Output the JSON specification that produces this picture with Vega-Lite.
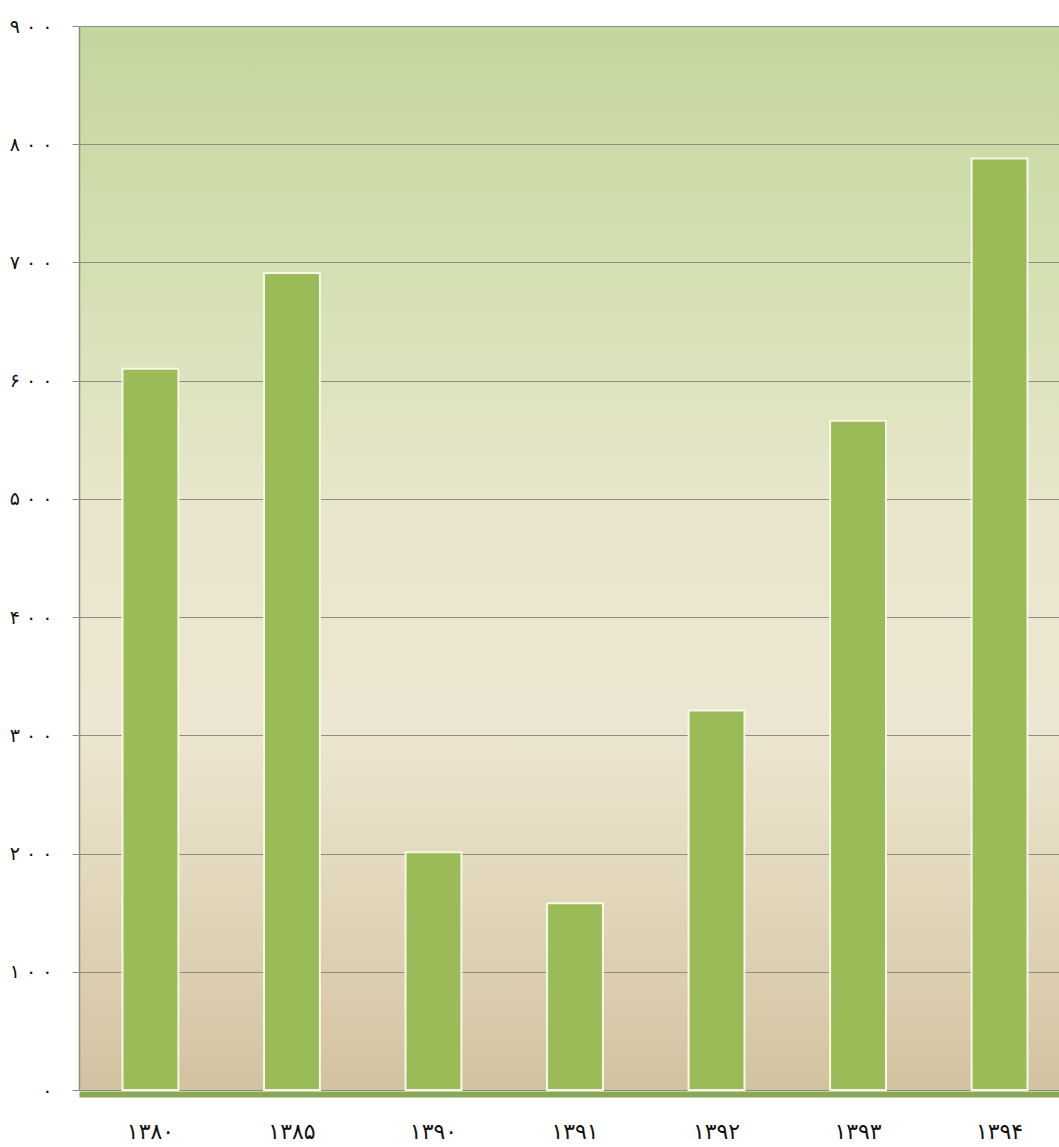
{
  "$schema": "https://vega.github.io/schema/vega-lite/v6.json",
  "autosize": "none",
  "padding": {"left": 79, "top": 26, "right": 0, "bottom": 57},
  "width": 980,
  "height": 1064,
  "background": "white",
  "config": {
    "view": {
      "stroke": null,
      "fill": {
        "gradient": "linear",
        "x1": 0, "y1": 0, "x2": 0, "y2": 1,
        "stops": [
          {"offset": 0, "color": "#c4d69c"},
          {"offset": 0.25, "color": "#d6e0b4"},
          {"offset": 0.45, "color": "#e8e6cc"},
          {"offset": 0.65, "color": "#ede6d2"},
          {"offset": 0.82, "color": "#e1d6ba"},
          {"offset": 1, "color": "#d3c2a0"}
        ]
      }
    }
  },
  "data": {
    "values": [
      {"year": "۱۳۸۰", "value": 610},
      {"year": "۱۳۸۵", "value": 691},
      {"year": "۱۳۹۰", "value": 201},
      {"year": "۱۳۹۱", "value": 158},
      {"year": "۱۳۹۲", "value": 321},
      {"year": "۱۳۹۳", "value": 566},
      {"year": "۱۳۹۴", "value": 788}
    ]
  },
  "mark": {"type": "bar", "color": "#9bbb59", "stroke": "#f4f8e4", "strokeWidth": 2},
  "encoding": {
    "x": {
      "field": "year",
      "type": "ordinal",
      "sort": null,
      "scale": {"paddingInner": 0.605, "paddingOuter": 0.265, "align": 0.58},
      "axis": {
        "title": null,
        "labelAngle": 0,
        "ticks": false,
        "domainColor": "#8ba858",
        "domainWidth": 6,
        "offset": 4,
        "labelPadding": 27,
        "labelFont": "DejaVu Sans",
        "labelFontSize": 22,
        "labelColor": "#111111"
      }
    },
    "y": {
      "field": "value",
      "type": "quantitative",
      "scale": {"domain": [0, 900], "nice": false},
      "axis": {
        "title": null,
        "values": [0, 100, 200, 300, 400, 500, 600, 700, 800, 900],
        "labelExpr": "datum.value == 0 ? '۰' : datum.value == 100 ? '۱ ۰ ۰' : datum.value == 200 ? '۲ ۰ ۰' : datum.value == 300 ? '۳ ۰ ۰' : datum.value == 400 ? '۴ ۰ ۰' : datum.value == 500 ? '۵ ۰ ۰' : datum.value == 600 ? '۶ ۰ ۰' : datum.value == 700 ? '۷ ۰ ۰' : datum.value == 800 ? '۸ ۰ ۰' : '۹ ۰ ۰'",
        "grid": true,
        "gridColor": "#8c8c80",
        "gridWidth": 1.2,
        "gridOpacity": 1,
        "domainColor": "#8c8c80",
        "domainWidth": 1.5,
        "tickColor": "#8c8c80",
        "tickSize": 7,
        "labelPadding": 20,
        "labelFont": "DejaVu Sans",
        "labelFontSize": 19,
        "labelColor": "#111111"
      }
    }
  }
}
